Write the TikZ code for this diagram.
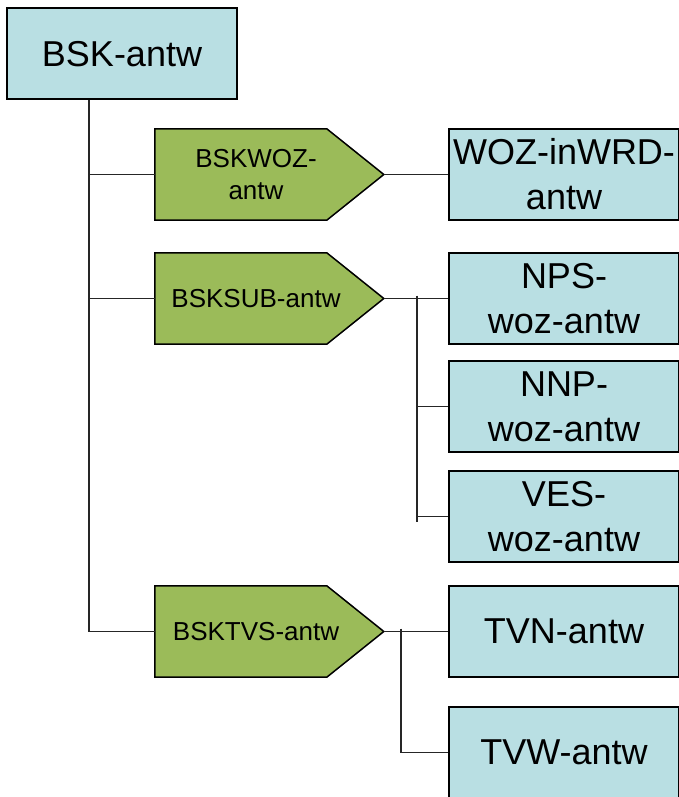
\documentclass[tikz,border=0pt]{standalone}
\usepackage{fontspec}
\setmainfont{Liberation Sans}
\usetikzlibrary{calc}
\definecolor{boxblue}{HTML}{B9DFE3}
\definecolor{boxgreen}{HTML}{9BBB59}
\tikzset{
 bluebox/.style={draw=black, line width=2pt, fill=boxblue, minimum width=230pt, minimum height=91pt, inner sep=0pt, font=\fontsize{36}{45}\selectfont, align=center},
 greentext/.style={inner sep=0pt, minimum width=202pt, minimum height=91pt, font=\fontsize{26}{32}\selectfont, align=center},
 greenshape/.style={draw=black, line width=1.5pt, fill=boxgreen, line join=miter},
 conn/.style={draw=black!85, line width=1.8pt},
}
\newcommand{\greenpent}[1]{%
 \path[greenshape] (#1.north west) -- ($(#1.north west)+(172,0)$) -- ($(#1.west)+(229,0)$) -- ($(#1.south west)+(172,0)$) -- (#1.south west) -- cycle;
 \coordinate (#1t) at ($(#1.west)+(229,0)$);}
\begin{document}
\begin{tikzpicture}[x=1pt,y=-1pt]
\useasboundingbox (0,0) rectangle (678,797);
% root
\node[bluebox] (bsk) at (122,54) {BSK-antw};
% green branch nodes (shape drawn behind text)
\path (256,174.5) node[greentext] (woz) {};
\greenpent{woz}
\node[greentext] at (woz) {BSKWOZ-\\antw};
\path (256,298.5) node[greentext] (sub) {};
\greenpent{sub}
\node[greentext] at (sub) {BSKSUB-antw};
\path (256,631.5) node[greentext] (tvs) {};
\greenpent{tvs}
\node[greentext] at (tvs) {BSKTVS-antw};
% leaves
\node[bluebox] (wrd) at (564,174.5) {WOZ-inWRD-\\antw};
\node[bluebox] (nps) at (564,298.5) {NPS-\\woz-antw};
\node[bluebox] (nnp) at (564,406.5) {NNP-\\woz-antw};
\node[bluebox] (ves) at (564,516.5) {VES-\\woz-antw};
\node[bluebox] (tvn) at (564,631.5) {TVN-antw};
\node[bluebox] (tvw) at (564,752.5) {TVW-antw};
% trunk
\coordinate (trunktop) at ($(bsk.south west)+(83,0)$);
\draw[conn] (trunktop) |- (tvs.west);
\draw[conn] (trunktop |- woz.west) -- (woz.west);
\draw[conn] (trunktop |- sub.west) -- (sub.west);
% woz
\draw[conn] (wozt) -- (wrd.west);
% sub
\draw[conn] (subt) -- (nps.west);
\coordinate (subtop) at ($(subt)+(33,-3)$);
\draw[conn] (subtop) -- ($(subtop |- ves.west)+(0,5)$);
\draw[conn] (subtop |- nnp.west) -- (nnp.west);
\draw[conn] (subtop |- ves.west) -- (ves.west);
% tvs
\draw[conn] (tvst) -- (tvn.west);
\coordinate (tvstop) at ($(tvst)+(17,-3)$);
\draw[conn] (tvstop) |- (tvw.west);
\end{tikzpicture}
\end{document}
